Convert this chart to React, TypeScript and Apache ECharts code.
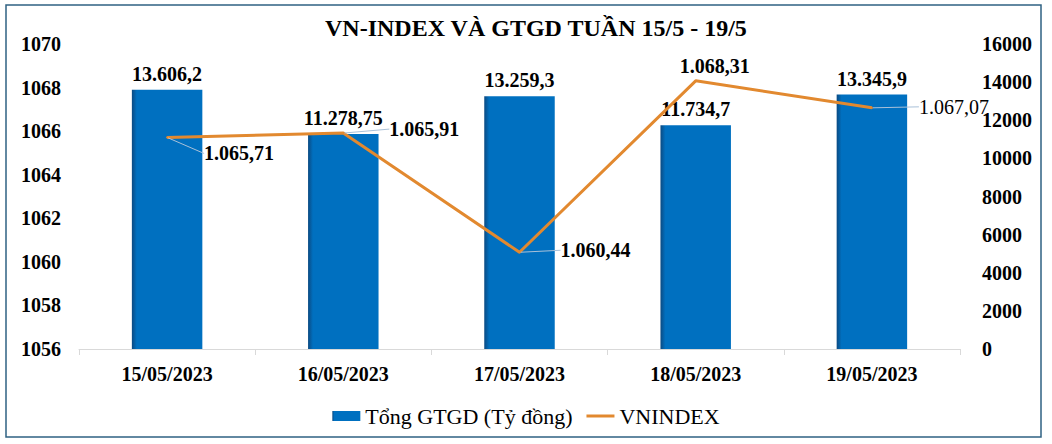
import React, { useEffect, useRef } from "react";
import * as echarts from "echarts";

const categories = ["15/05/2023", "16/05/2023", "17/05/2023", "18/05/2023", "19/05/2023"];
const gtgdValues = [13606.2, 11278.75, 13259.3, 11734.7, 13345.9];
const vnindexValues = [1065.71, 1065.91, 1060.44, 1068.31, 1067.07];
const leftTicks = { min: 1056, max: 1070, interval: 2 };
const rightTicks = { min: 0, max: 16000, interval: 2000 };

// label placement offsets (styling only)
const lineLabelOffsets = [
  [31, 16],
  [40, -4],
  [35, -2],
  [-22, -15],
  [41, -1],
];

const FONT = "Liberation Serif";

const fmt = (v: number, decimals: number) => {
  const parts = v.toFixed(decimals).split(".");
  const intPart = parts[0].replace(/\B(?=(\d{3})+(?!\d))/g, ".");
  return parts[1] !== undefined ? intPart + "," + parts[1] : intPart;
};

const decimalsOf = (v: number) => {
  const s = String(v);
  const i = s.indexOf(".");
  return i < 0 ? 0 : s.length - i - 1;
};

export default function App() {
  const ref = useRef<HTMLDivElement>(null);
  useEffect(() => {
    if (!ref.current) return;
    const chart = echarts.init(ref.current, undefined, { renderer: "svg" });
    const barColor = new echarts.graphic.LinearGradient(0, 0, 1, 0, [
      { offset: 0, color: "#0b4a82" },
      { offset: 0.07, color: "#0070c0" },
      { offset: 1, color: "#0070c0" },
    ]);
    const axisLabelStyle = {
      fontFamily: FONT,
      fontSize: 20,
      fontWeight: "bold",
      color: "#000",
    };
    chart.setOption({
      animation: false,
      backgroundColor: "#ffffff",
      textStyle: { fontFamily: FONT },
      title: {
        text: "VN-INDEX VÀ GTGD TUẦN 15/5 - 19/5",
        left: 320,
        top: 11,
        textStyle: { fontFamily: FONT, fontSize: 24, fontWeight: "bold", color: "#000" },
      },
      graphic: [
        {
          type: "rect",
          shape: { x: 6, y: 5, width: 1035, height: 432 },
          style: { fill: "none", stroke: "#2f6282", lineWidth: 1.5 },
          silent: true,
        },
      ],
      legend: {
        left: "center",
        top: 400,
        itemWidth: 28,
        itemHeight: 10,
        itemGap: 14,
        textStyle: { fontFamily: FONT, fontSize: 22, color: "#000" },
        data: [
          { name: "Tổng GTGD (Tỷ đồng)", icon: "rect" },
          { name: "VNINDEX", icon: "path://M0,0L28,0L28,3L0,3Z" },
        ],
      },
      grid: { left: 79, right: 92, top: 44, bottom: 95, containLabel: false },
      xAxis: {
        type: "category",
        data: categories,
        boundaryGap: true,
        axisLine: { show: true, lineStyle: { color: "#d9d9d9", width: 1 } },
        axisTick: { show: true, length: 6, lineStyle: { color: "#d9d9d9" } },
        axisLabel: { ...axisLabelStyle, margin: 15 },
        splitLine: { show: false },
      },
      yAxis: [
        {
          type: "value",
          position: "left",
          min: leftTicks.min,
          max: leftTicks.max,
          interval: leftTicks.interval,
          axisLine: { show: false },
          axisTick: { show: false },
          splitLine: { show: false },
          axisLabel: { ...axisLabelStyle, margin: 18, formatter: (v: number) => String(v) },
        },
        {
          type: "value",
          position: "right",
          min: rightTicks.min,
          max: rightTicks.max,
          interval: rightTicks.interval,
          axisLine: { show: false },
          axisTick: { show: false },
          splitLine: { show: false },
          axisLabel: { ...axisLabelStyle, margin: 22, formatter: (v: number) => String(v) },
        },
      ],
      series: [
        {
          name: "Tổng GTGD (Tỷ đồng)",
          type: "bar",
          yAxisIndex: 1,
          barWidth: "40%",
          data: gtgdValues,
          itemStyle: { color: barColor },
          label: {
            show: true,
            position: "top",
            distance: 6,
            fontFamily: FONT,
            fontSize: 20,
            fontWeight: "bold",
            color: "#000",
            formatter: (p: any) => fmt(p.value, decimalsOf(p.value)),
          },
        },
        {
          name: "VNINDEX",
          type: "line",
          yAxisIndex: 0,
          data: vnindexValues.map((v, i) => ({
            value: v,
            label: { fontWeight: i === vnindexValues.length - 1 ? "normal" : "bold" },
            labelLine: { show: i !== 3 },
          })),
          symbol: "circle",
          symbolSize: 2,
          itemStyle: { color: "#e2892f" },
          lineStyle: { color: "#e2892f", width: 3 },
          z: 5,
          label: {
            show: true,
            position: "right",
            distance: 5,
            fontFamily: FONT,
            fontSize: 20,
            fontWeight: "bold",
            color: "#000",
            formatter: (p: any) => fmt(p.value, 2),
          },
          labelLine: {
            show: true,
            lineStyle: { color: "#a9c1d9", width: 1 },
          },
          labelLayout: (params: any) => {
            const o = lineLabelOffsets[params.dataIndex] || [0, 0];
            return { dx: o[0], dy: o[1] };
          },
        },
      ],
    });
    return () => chart.dispose();
  }, []);
  return (
    <div
      ref={ref}
      style={{ position: "fixed", left: 0, top: 0, width: 1052, height: 444 }}
    />
  );
}
